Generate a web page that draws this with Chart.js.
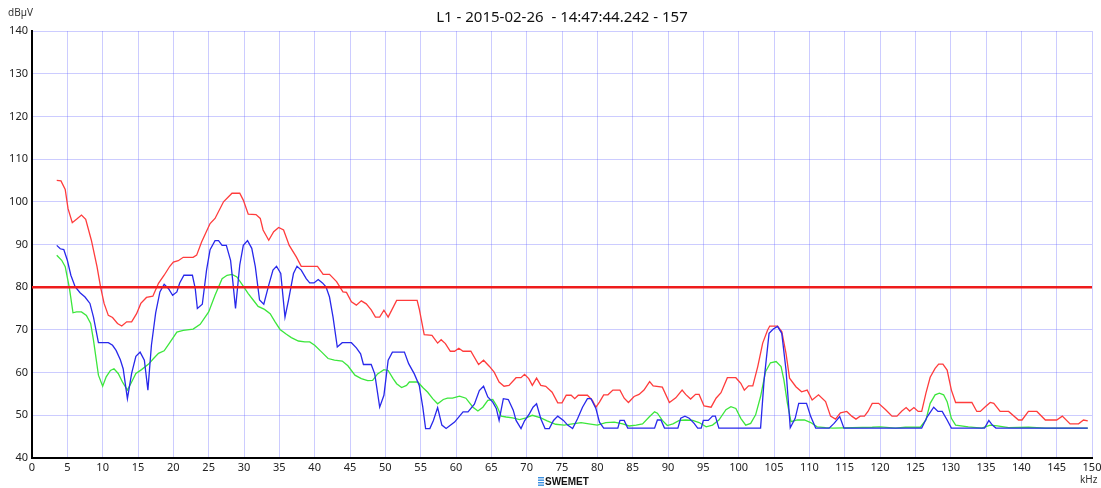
<!DOCTYPE html>
<html>
<head>
<meta charset="utf-8">
<script src="https://cdn.jsdelivr.net/npm/chart.js@4.4.1/dist/chart.umd.min.js"></script>
<style>
  html, body { margin: 0; padding: 0; background: #fff; }
  canvas { display: block; }
</style>
</head>
<body>
<canvas id="spectrum" width="1101" height="488"></canvas>
<script>
// readings taken off the plot (kHz / dBuV)
const limitLevel = 80;

const redFreq = [3.5,4.1,4.7,5.1,5.7,6.3,7.0,7.6,8.4,9.2,9.7,10.2,10.8,11.4,12.1,12.7,13.4,14.1,14.8,15.4,16.2,17.1,17.9,18.7,19.5,20.0,20.7,21.4,22.8,23.3,24.0,25.2,25.9,27.1,28.3,29.4,29.9,30.6,31.7,32.3,32.7,33.5,34.2,34.9,35.6,36.4,37.4,38.1,40.4,41.2,42.1,43.1,44.0,44.5,45.2,45.9,46.6,47.3,48.0,48.6,49.2,49.8,50.4,51.6,54.5,54.8,55.5,56.6,57.4,57.9,58.5,59.2,59.8,60.4,61.0,62.1,63.2,63.9,64.7,65.4,66.1,66.8,67.5,68.5,69.2,69.7,70.3,70.8,71.4,72.0,72.7,73.6,74.4,75.0,75.6,76.3,76.8,77.3,78.6,79.3,79.8,80.3,80.9,81.5,82.2,83.2,83.8,84.4,85.2,85.9,86.6,87.4,87.9,89.2,90.2,91.1,92.0,92.5,93.2,93.9,94.4,95.1,96.1,96.8,97.5,98.4,99.6,100.3,100.8,101.4,102.0,102.7,103.4,104.1,104.4,105.5,106.1,106.7,107.2,108.1,108.9,109.7,110.4,111.3,112.3,113.0,113.7,114.4,115.3,116.0,116.6,117.2,117.8,118.3,118.9,119.8,120.8,121.7,122.4,123.1,123.7,124.2,124.8,125.4,125.9,126.5,127.1,127.8,128.3,128.9,129.5,130.1,130.7,133.0,133.7,134.2,134.9,135.6,136.1,137.0,138.2,139.6,140.1,141.0,142.2,143.4,145.0,145.8,146.9,148.1,148.8,149.4];
const redLevel = [105,104.9,102.9,98.4,95.1,95.9,96.9,95.9,91,84.8,80.1,76.2,73.4,72.9,71.5,70.9,71.9,71.9,73.8,76.2,77.6,77.9,80.9,82.8,84.9,85.9,86.2,87,87,87.5,90.6,94.9,96.1,100,102,102,100.4,97.1,97,96.1,93.4,91,93,94,93.4,89.8,87.1,84.9,84.9,83,83,81.3,78.9,78.8,76.6,75.8,76.8,76.1,74.7,73,73,74.6,73,76.9,76.9,74.9,68.9,68.7,66.9,67.7,66.8,65,65,65.7,65,65,61.9,62.9,61.5,60.1,57.8,56.8,57,58.8,58.8,59.6,58.6,57,58.7,57,56.8,55.4,52.9,52.9,54.7,54.7,53.9,54.7,54.7,53.5,51.9,53.1,54.8,54.8,55.9,55.9,54,53,54.4,54.9,55.9,57.9,56.9,56.6,53,54.1,55.9,54.9,53.8,54.9,54.9,52.2,51.9,54,55.3,58.8,58.8,57.5,55.9,56.9,56.9,61.4,66.9,70,70.9,70.9,69.6,64.5,58.7,56.7,55.5,55.9,53.6,54.8,53.2,49.8,49.1,50.6,50.9,49.8,49.1,49.8,49.8,50.9,52.8,52.8,51.3,49.8,49.8,51,51.8,51,51.8,50.9,50.9,55.2,58.9,61,62,62,60.6,55.9,53,53,50.9,50.9,52,53,52.8,50.9,50.9,48.9,48.9,50.9,50.9,48.9,48.9,49.8,48,48,48.9,48.7];

const blueFreq = [3.5,4.0,4.5,5.0,5.5,6.1,6.8,7.5,8.2,8.7,9.4,10.8,11.4,11.9,12.5,12.9,13.5,14.1,14.7,15.3,15.9,16.4,16.9,17.5,18.1,18.7,19.3,19.9,20.5,20.9,21.5,22.7,23.1,23.4,24.1,24.7,25.2,25.9,26.4,26.9,27.5,28.1,28.4,28.8,29.4,29.9,30.5,31.1,31.6,32.2,32.8,33.5,34.1,34.6,35.2,35.8,36.3,37.0,37.5,38.1,38.8,39.3,39.9,40.5,41.1,41.6,42.1,42.6,43.2,43.9,45.2,45.9,46.5,46.9,48.0,48.5,49.2,49.8,50.4,51.0,52.7,53.3,54.1,54.8,55.3,55.7,56.3,56.8,57.4,58.0,58.6,59.8,61.0,61.7,62.6,63.3,63.9,64.5,65.2,65.7,66.1,66.7,67.4,68.1,68.5,69.2,69.7,70.4,70.9,71.4,72.0,72.6,73.2,73.8,74.4,75.2,75.8,76.5,77.2,77.9,78.6,79.1,79.8,80.3,80.9,82.9,83.2,83.8,84.3,88.1,88.5,89.0,89.5,91.4,91.8,92.4,93.0,93.7,94.2,94.7,95.0,95.7,96.3,96.7,97.2,103.1,103.6,104.3,104.9,105.5,106.1,106.7,107.3,108.0,108.5,109.6,110.2,110.9,112.8,113.5,114.3,114.9,125.9,126.7,127.6,128.2,128.8,129.5,130.1,134.8,135.4,135.9,136.4,149.4];
const blueLevel = [89.8,89,88.8,86.3,82.8,80.1,78.7,77.7,76.2,73,67,67,66.4,65.2,63,60.9,53.9,59.8,63.8,64.8,62.9,55.9,66.4,74,78.9,80.7,79.7,78.1,78.9,81,82.8,82.8,79.7,75,76,84,88.8,90.9,90.9,89.8,89.8,86.3,81.6,75,85.2,89.8,90.9,89.1,84.8,77,76,80.5,84,84.9,83.2,73,77,83.2,84.9,84,82,81,81,81.8,81,80.1,77.7,73,66,67,67,65.8,64.4,61.9,61.9,59.7,51.9,54.7,62.9,64.8,64.8,62.1,59.7,57,51.9,46.9,46.9,48.8,51.8,47.7,46.9,48.4,50.8,50.8,52.6,55.8,56.8,54.3,53.1,51.6,48.8,53.9,53.7,51.2,48.8,46.9,48.7,50.4,51.9,52.7,49.2,46.9,46.9,48.8,49.8,48.8,47.7,46.9,49.2,51.9,53.9,53.9,51.6,48.4,47,47,48.8,48.8,47,47,48.9,48.9,47,47,49.3,49.8,49.3,48.1,47,47,48.8,48.8,49.8,49.8,47,47,58.3,69.2,70.2,70.8,69.2,60.6,47.1,49.3,52.8,52.8,49.7,47,47,48.1,49.7,47,47,49.7,51.9,50.9,50.9,48.9,47,47,48.8,47.7,47,47];

const greenFreq = [3.5,4.2,4.7,5.3,5.8,6.3,7.0,7.7,8.3,8.7,9.4,10.0,10.5,11.1,11.6,12.2,12.8,13.5,14.1,14.7,15.5,16.5,17.2,17.9,18.7,19.4,20.5,21.4,22.8,23.8,25.0,25.9,26.9,27.6,28.3,29.0,29.7,30.6,31.3,32.0,32.9,33.7,34.4,35.1,36.0,36.7,37.7,38.6,39.3,40.0,41.0,41.9,42.8,43.9,44.7,45.7,46.6,47.5,48.2,48.9,49.8,50.4,51.1,51.6,52.3,53.0,53.4,54.6,55.3,56.0,56.7,57.4,58.2,58.8,59.5,60.5,61.4,62.4,63.1,63.8,64.5,65.2,65.8,66.4,67.1,68.0,69.0,69.9,70.8,72.0,72.9,74.1,75.3,76.5,77.7,78.8,80.0,81.2,82.4,83.6,84.5,85.5,86.4,87.4,88.1,88.5,89.2,89.9,90.7,91.6,92.5,93.5,94.4,95.4,96.3,97.2,98.2,98.9,99.6,100.3,101.0,101.7,102.4,103.1,103.8,104.5,105.3,106.0,106.4,106.9,107.4,108.3,109.3,110.2,111.1,112.3,113.3,118.9,120.0,122.2,123.6,125.7,126.5,127.1,127.8,128.4,129.0,129.5,130.1,130.7,132.5,134.4,135.6,136.6,138.2,141.0,143.4,149.4];
const greenLevel = [87.5,86.3,84.8,79.7,74,74.2,74.2,73.4,71.5,67.6,59.4,56.8,59,60.5,60.9,59.8,57.8,55.9,57.8,59.8,60.7,62,63.3,64.5,65.1,66.8,69.5,69.9,70.2,71.3,74.2,78.1,82,82.8,83,82.4,80.7,78.5,77,75.5,74.8,73.8,71.9,70.1,69,68.2,67.4,67.2,67.2,66.4,64.8,63.3,62.9,62.7,61.6,59.4,58.6,58.1,58.2,59.7,60.7,60.5,58.6,57.4,56.5,57,57.8,57.8,56.5,55.4,53.9,52.7,53.7,54,54,54.5,54,51.9,51,51.9,53.5,53.7,52.1,49.8,49.6,49.4,49,49.4,50,49.4,48.7,47.9,47.7,48,48.3,48,47.7,48.3,48.4,48,47.5,47.7,48,49.7,50.8,50.5,48.8,47.6,48,48.8,48.9,48.8,48.3,47.3,47.7,48.9,51.3,52,51.6,49.3,47.7,48.1,50.1,54.4,60.2,62.3,62.6,61.4,58.3,52.8,48.5,48.9,48.9,48.3,47.3,47.1,47,47.2,47.3,47,47.2,47.2,48.9,52.8,54.8,55.2,54.8,53.2,49.3,47.7,47.3,47,47.7,47.5,47.1,47.2,47,47];

const xTicks = { min: 0, max: 150, step: 5 };
const yTicks = { min: 40, max: 140, step: 10 };

const titleText = "L1 - 2015-02-26  - 14:47:44.242 - 157";

function pairs(fs, vs) {
  return fs.map((f, i) => ({ x: f, y: vs[i] }));
}

const tickFont = { family: "Noto Sans", size: 11 };

// title, unit labels and the small logo
const decorations = {
  id: "decorations",
  afterDraw(chart) {
    const ctx = chart.ctx;
    const area = chart.chartArea;
    ctx.save();
    ctx.fillStyle = "#111";
    ctx.font = "15px 'Noto Sans'";
    ctx.textAlign = "center";
    ctx.textBaseline = "middle";
    ctx.fillText(titleText, (area.left + area.right) / 2, 18);

    ctx.font = "10px 'Noto Sans'";
    ctx.fillStyle = "#333";
    ctx.textAlign = "left";
    ctx.fillText("dBµV", 8, 13);
    ctx.fillText("kHz", 1080, 480);

    // logo
    ctx.fillStyle = "#3a8fe0";
    for (let i = 0; i < 4; i++) {
      ctx.fillRect(538, 477 + i * 2.5, 6, 1.4);
    }
    ctx.fillStyle = "#111";
    ctx.font = "bold 10px 'Liberation Sans'";
    ctx.fillText("SWEMET", 545, 482);
    ctx.restore();
  }
};

const ctx = document.getElementById("spectrum").getContext("2d");

new Chart(ctx, {
  type: "line",
  data: {
    datasets: [
      {
        label: "limit",
        data: [{ x: xTicks.min, y: limitLevel }, { x: xTicks.max, y: limitLevel }],
        borderColor: "rgb(238,28,28)",
        borderWidth: 2.5,
        pointRadius: 0,
        order: 0
      },
      {
        label: "avg",
        data: pairs(blueFreq, blueLevel),
        borderColor: "rgb(40,40,235)",
        borderWidth: 1.3,
        pointRadius: 0,
        order: 1
      },
      {
        label: "min",
        data: pairs(greenFreq, greenLevel),
        borderColor: "rgb(60,230,60)",
        borderWidth: 1.3,
        pointRadius: 0,
        order: 2
      },
      {
        label: "max",
        data: pairs(redFreq, redLevel),
        borderColor: "rgb(255,60,60)",
        borderWidth: 1.3,
        pointRadius: 0,
        order: 3
      }
    ]
  },
  options: {
    responsive: false,
    animation: false,
    events: [],
    layout: { padding: { top: 31, right: 9, left: 0, bottom: 0 } },
    plugins: {
      legend: { display: false },
      tooltip: { enabled: false },
      title: { display: false }
    },
    elements: { line: { tension: 0 } },
    scales: {
      x: {
        type: "linear",
        min: xTicks.min,
        max: xTicks.max,
        ticks: {
          stepSize: xTicks.step,
          autoSkip: false,
          maxRotation: 0,
          padding: 3,
          color: "#222",
          font: tickFont
        },
        grid: { color: "rgba(110,110,255,0.35)", lineWidth: 1, drawTicks: false },
        border: { color: "#000", width: 2 },
        afterFit: s => { s.height = 30; s.paddingLeft = 0; s.paddingRight = 0; }
      },
      y: {
        min: yTicks.min,
        max: yTicks.max,
        ticks: {
          stepSize: yTicks.step,
          padding: 4,
          color: "#222",
          font: tickFont
        },
        grid: { color: "rgba(110,110,255,0.35)", lineWidth: 1, drawTicks: false },
        border: { color: "#000", width: 2 },
        afterFit: s => { s.width = 32; s.paddingTop = 0; s.paddingBottom = 0; }
      }
    }
  },
  plugins: [decorations]
});
</script>
</body>
</html>
